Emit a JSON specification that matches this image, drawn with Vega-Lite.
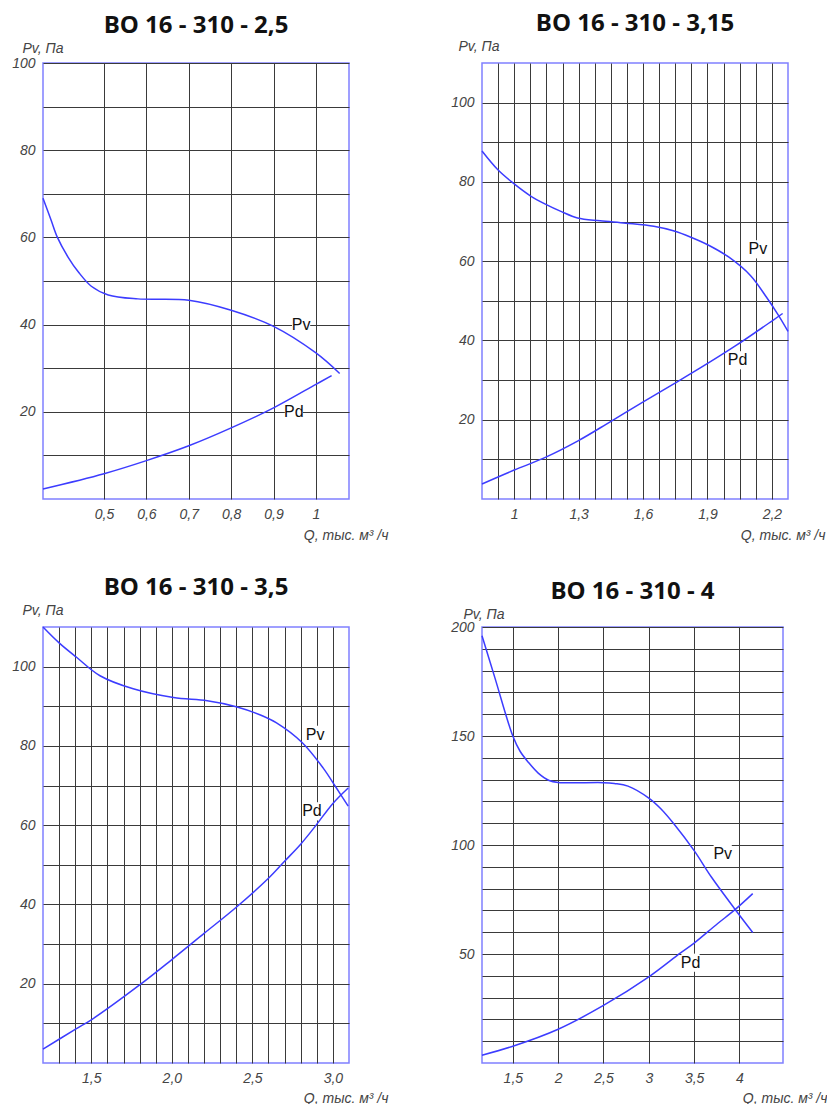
{
  "$schema": "https://vega.github.io/schema/vega-lite/v6.json",
  "background": "white",
  "padding": {"left": 10, "top": 11, "right": 5, "bottom": 5},
  "bounds": "flush",
  "columns": 2,
  "spacing": {"row": 128, "column": 133},
  "datasets": {
    "curves": [
      {"panel": 1, "s": "Pv", "q": 0.356, "p": 69},
      {"panel": 1, "s": "Pv", "q": 0.375, "p": 64},
      {"panel": 1, "s": "Pv", "q": 0.39, "p": 60},
      {"panel": 1, "s": "Pv", "q": 0.415, "p": 55.5},
      {"panel": 1, "s": "Pv", "q": 0.44, "p": 52},
      {"panel": 1, "s": "Pv", "q": 0.47, "p": 48.8},
      {"panel": 1, "s": "Pv", "q": 0.51, "p": 46.8},
      {"panel": 1, "s": "Pv", "q": 0.58, "p": 45.9},
      {"panel": 1, "s": "Pv", "q": 0.7, "p": 45.6},
      {"panel": 1, "s": "Pv", "q": 0.8, "p": 43.3},
      {"panel": 1, "s": "Pv", "q": 0.9, "p": 39.6},
      {"panel": 1, "s": "Pv", "q": 1.0, "p": 33.5},
      {"panel": 1, "s": "Pv", "q": 1.056, "p": 28.8},
      {"panel": 1, "s": "Pd", "q": 0.356, "p": 2.3},
      {"panel": 1, "s": "Pd", "q": 0.5, "p": 5.8},
      {"panel": 1, "s": "Pd", "q": 0.6, "p": 8.8},
      {"panel": 1, "s": "Pd", "q": 0.7, "p": 12.2},
      {"panel": 1, "s": "Pd", "q": 0.8, "p": 16.3},
      {"panel": 1, "s": "Pd", "q": 0.9, "p": 20.9},
      {"panel": 1, "s": "Pd", "q": 1.0, "p": 26.3},
      {"panel": 1, "s": "Pd", "q": 1.037, "p": 28.3},
      {"panel": 2, "s": "Pv", "q": 0.85, "p": 87.8},
      {"panel": 2, "s": "Pv", "q": 0.925, "p": 83},
      {"panel": 2, "s": "Pv", "q": 1.0, "p": 79.5},
      {"panel": 2, "s": "Pv", "q": 1.075, "p": 76.5},
      {"panel": 2, "s": "Pv", "q": 1.145, "p": 74.4},
      {"panel": 2, "s": "Pv", "q": 1.22, "p": 72.5},
      {"panel": 2, "s": "Pv", "q": 1.295, "p": 70.9},
      {"panel": 2, "s": "Pv", "q": 1.4, "p": 70.2},
      {"panel": 2, "s": "Pv", "q": 1.52, "p": 69.6},
      {"panel": 2, "s": "Pv", "q": 1.65, "p": 68.8},
      {"panel": 2, "s": "Pv", "q": 1.745, "p": 67.6},
      {"panel": 2, "s": "Pv", "q": 1.82, "p": 66.1},
      {"panel": 2, "s": "Pv", "q": 1.91, "p": 63.9},
      {"panel": 2, "s": "Pv", "q": 2.0, "p": 61},
      {"panel": 2, "s": "Pv", "q": 2.1, "p": 56.4},
      {"panel": 2, "s": "Pv", "q": 2.175, "p": 50.9},
      {"panel": 2, "s": "Pv", "q": 2.23, "p": 46.4},
      {"panel": 2, "s": "Pv", "q": 2.275, "p": 42.3},
      {"panel": 2, "s": "Pd", "q": 0.85, "p": 3.8},
      {"panel": 2, "s": "Pd", "q": 1.0, "p": 7.3},
      {"panel": 2, "s": "Pd", "q": 1.145, "p": 10.5},
      {"panel": 2, "s": "Pd", "q": 1.295, "p": 14.6},
      {"panel": 2, "s": "Pd", "q": 1.445, "p": 19.4},
      {"panel": 2, "s": "Pd", "q": 1.595, "p": 24.3},
      {"panel": 2, "s": "Pd", "q": 1.745, "p": 29.1},
      {"panel": 2, "s": "Pd", "q": 1.895, "p": 34},
      {"panel": 2, "s": "Pd", "q": 2.035, "p": 38.8},
      {"panel": 2, "s": "Pd", "q": 2.2, "p": 44.9},
      {"panel": 2, "s": "Pd", "q": 2.25, "p": 46.8},
      {"panel": 3, "s": "Pv", "q": 1.2, "p": 110},
      {"panel": 3, "s": "Pv", "q": 1.3, "p": 106},
      {"panel": 3, "s": "Pv", "q": 1.41, "p": 102.3},
      {"panel": 3, "s": "Pv", "q": 1.554, "p": 97.7},
      {"panel": 3, "s": "Pv", "q": 1.76, "p": 94.4},
      {"panel": 3, "s": "Pv", "q": 2.01, "p": 92.2},
      {"panel": 3, "s": "Pv", "q": 2.22, "p": 91.4},
      {"panel": 3, "s": "Pv", "q": 2.4, "p": 89.9},
      {"panel": 3, "s": "Pv", "q": 2.55, "p": 87.8},
      {"panel": 3, "s": "Pv", "q": 2.65, "p": 85.8},
      {"panel": 3, "s": "Pv", "q": 2.81, "p": 80.8},
      {"panel": 3, "s": "Pv", "q": 2.94, "p": 74.4},
      {"panel": 3, "s": "Pv", "q": 3.02, "p": 69.5},
      {"panel": 3, "s": "Pv", "q": 3.095, "p": 64.8},
      {"panel": 3, "s": "Pd", "q": 1.2, "p": 3.5},
      {"panel": 3, "s": "Pd", "q": 1.405, "p": 8.6},
      {"panel": 3, "s": "Pd", "q": 1.5, "p": 10.9},
      {"panel": 3, "s": "Pd", "q": 1.8, "p": 19.7},
      {"panel": 3, "s": "Pd", "q": 2.0, "p": 26.1},
      {"panel": 3, "s": "Pd", "q": 2.2, "p": 32.7},
      {"panel": 3, "s": "Pd", "q": 2.4, "p": 39.3},
      {"panel": 3, "s": "Pd", "q": 2.6, "p": 46.6},
      {"panel": 3, "s": "Pd", "q": 2.7, "p": 50.9},
      {"panel": 3, "s": "Pd", "q": 2.8, "p": 55.2},
      {"panel": 3, "s": "Pd", "q": 2.89, "p": 59.7},
      {"panel": 3, "s": "Pd", "q": 3.0, "p": 65.5},
      {"panel": 3, "s": "Pd", "q": 3.095, "p": 69.4},
      {"panel": 4, "s": "Pv", "q": 1.16, "p": 196},
      {"panel": 4, "s": "Pv", "q": 1.3, "p": 177},
      {"panel": 4, "s": "Pv", "q": 1.5, "p": 150},
      {"panel": 4, "s": "Pv", "q": 1.58, "p": 143},
      {"panel": 4, "s": "Pv", "q": 1.67, "p": 138},
      {"panel": 4, "s": "Pv", "q": 1.78, "p": 133},
      {"panel": 4, "s": "Pv", "q": 1.9, "p": 129.6},
      {"panel": 4, "s": "Pv", "q": 2.0, "p": 128.7},
      {"panel": 4, "s": "Pv", "q": 2.5, "p": 128.6},
      {"panel": 4, "s": "Pv", "q": 2.62, "p": 128.2},
      {"panel": 4, "s": "Pv", "q": 2.77, "p": 127},
      {"panel": 4, "s": "Pv", "q": 3.0, "p": 121.5},
      {"panel": 4, "s": "Pv", "q": 3.135, "p": 116.5},
      {"panel": 4, "s": "Pv", "q": 3.28, "p": 109.5},
      {"panel": 4, "s": "Pv", "q": 3.5, "p": 97.4},
      {"panel": 4, "s": "Pv", "q": 3.69, "p": 85.3},
      {"panel": 4, "s": "Pv", "q": 3.944, "p": 70.9},
      {"panel": 4, "s": "Pv", "q": 4.146, "p": 59.9},
      {"panel": 4, "s": "Pd", "q": 1.16, "p": 3.6},
      {"panel": 4, "s": "Pd", "q": 1.5, "p": 7.7},
      {"panel": 4, "s": "Pd", "q": 2.0, "p": 15.5},
      {"panel": 4, "s": "Pd", "q": 2.5, "p": 26.4},
      {"panel": 4, "s": "Pd", "q": 3.0, "p": 39.5},
      {"panel": 4, "s": "Pd", "q": 3.35, "p": 50.5},
      {"panel": 4, "s": "Pd", "q": 3.5, "p": 55},
      {"panel": 4, "s": "Pd", "q": 3.76, "p": 64},
      {"panel": 4, "s": "Pd", "q": 3.944, "p": 70.1},
      {"panel": 4, "s": "Pd", "q": 4.146, "p": 77.7}
    ],
    "labels": [
      {"panel": 1, "label": "Pv", "q": 0.965, "p": 40},
      {"panel": 1, "label": "Pd", "q": 0.948, "p": 20},
      {"panel": 2, "label": "Pv", "q": 2.135, "p": 63},
      {"panel": 2, "label": "Pd", "q": 2.04, "p": 35},
      {"panel": 3, "label": "Pv", "q": 2.89, "p": 82.8},
      {"panel": 3, "label": "Pd", "q": 2.87, "p": 63.5},
      {"panel": 4, "label": "Pv", "q": 3.815, "p": 95.9},
      {"panel": 4, "label": "Pd", "q": 3.46, "p": 46}
    ]
  },
  "config": {
    "view": {"stroke": "#8080ff", "strokeWidth": 1.5},
    "title": {"font": "Open Sans", "fontSize": 24, "fontWeight": "bold", "color": "#111111", "anchor": "middle", "offset": 3},
    "axis": {
      "grid": true, "gridColor": "#3a3a3a", "gridWidth": 1, "gridOpacity": 1,
      "domain": false, "ticks": false,
      "labelFont": "Liberation Sans Narrow, Liberation Sans", "labelFontStyle": "italic", "labelFontSize": 14, "labelColor": "#444444",
      "labelPadding": 8, "labelOverlap": false, "labelFlush": false,
      "titleFont": "Liberation Sans Narrow, Liberation Sans", "titleFontStyle": "italic", "titleFontWeight": "normal", "titleFontSize": 14, "titleColor": "#444444"
    },
    "axisX": {"titleAnchor": "end", "titleAlign": "right", "titleBaseline": "alphabetic", "titleY": 40},
    "axisY": {"titleAngle": 0, "titleAlign": "left", "titleBaseline": "alphabetic", "titleY": -11}
  },
  "concat": [
    {
      "width": 306, "height": 436,
      "title": "ВО 16 - 310 - 2,5",
      "encoding": {
        "x": {"field": "q", "type": "quantitative", "scale": {"domain": [0.356, 1.078], "nice": false, "zero": false},
              "axis": {"title": "Q, тыс. м³ /ч", "titleX": 345, "values": [0.5, 0.6, 0.7, 0.8, 0.9, 1], "labelExpr": "replace(format(datum.value, '~g'), '.', ',')"}},
        "y": {"field": "p", "type": "quantitative", "scale": {"domain": [0, 100], "nice": false},
              "axis": {"title": "Pv, Па", "titleX": -21, "values": [10, 20, 30, 40, 50, 60, 70, 80, 90, 100], "labelExpr": "datum.value % 20 == 0 ? datum.value : ''"}}
      },
      "layer": [
        {"data": {"name": "labels"}, "transform": [{"filter": "datum.panel == 1"}], "mark": {"type": "point", "shape": "square", "filled": true, "color": "white", "opacity": 1, "size": 330}},
        {"data": {"name": "curves"}, "transform": [{"filter": "datum.panel == 1"}], "mark": {"type": "line", "interpolate": "catmull-rom", "color": "#3c3cff", "strokeWidth": 1.5}, "encoding": {"detail": {"field": "s"}}},
        {"data": {"name": "labels"}, "transform": [{"filter": "datum.panel == 1"}], "mark": {"type": "text", "font": "Liberation Sans", "fontSize": 16, "color": "#111111"}, "encoding": {"text": {"field": "label"}}}
      ]
    },
    {
      "width": 306, "height": 436,
      "title": "ВО 16 - 310 - 3,15",
      "encoding": {
        "x": {"field": "q", "type": "quantitative", "scale": {"domain": [0.85, 2.275], "nice": false, "zero": false},
              "axis": {"title": "Q, тыс. м³ /ч", "titleX": 343, "values": [0.925, 1, 1.075, 1.15, 1.225, 1.3, 1.375, 1.45, 1.525, 1.6, 1.675, 1.75, 1.825, 1.9, 1.975, 2.05, 2.125, 2.2], "labelExpr": "indexof([1, 1.3, 1.6, 1.9, 2.2], datum.value) >= 0 ? replace(format(datum.value, '~g'), '.', ',') : ''"}},
        "y": {"field": "p", "type": "quantitative", "scale": {"domain": [0, 110], "nice": false},
              "axis": {"title": "Pv, Па", "titleX": -24, "titleY": -13, "values": [10, 20, 30, 40, 50, 60, 70, 80, 90, 100], "labelExpr": "datum.value % 20 == 0 ? datum.value : ''"}}
      },
      "layer": [
        {"data": {"name": "labels"}, "transform": [{"filter": "datum.panel == 2"}], "mark": {"type": "point", "shape": "square", "filled": true, "color": "white", "opacity": 1, "size": 330}},
        {"data": {"name": "curves"}, "transform": [{"filter": "datum.panel == 2"}], "mark": {"type": "line", "interpolate": "catmull-rom", "color": "#3c3cff", "strokeWidth": 1.5}, "encoding": {"detail": {"field": "s"}}},
        {"data": {"name": "labels"}, "transform": [{"filter": "datum.panel == 2"}], "mark": {"type": "text", "font": "Liberation Sans", "fontSize": 16, "color": "#111111"}, "encoding": {"text": {"field": "label"}}}
      ]
    },
    {
      "width": 306, "height": 436,
      "title": "ВО 16 - 310 - 3,5",
      "encoding": {
        "x": {"field": "q", "type": "quantitative", "scale": {"domain": [1.2, 3.1], "nice": false, "zero": false},
              "axis": {"title": "Q, тыс. м³ /ч", "titleX": 345, "titleY": 39, "values": [1.3, 1.4, 1.5, 1.6, 1.7, 1.8, 1.9, 2, 2.1, 2.2, 2.3, 2.4, 2.5, 2.6, 2.7, 2.8, 2.9, 3], "labelExpr": "indexof([1.5, 2, 2.5, 3], datum.value) >= 0 ? replace(format(datum.value, '.1f'), '.', ',') : ''"}},
        "y": {"field": "p", "type": "quantitative", "scale": {"domain": [0, 110], "nice": false},
              "axis": {"title": "Pv, Па", "titleX": -21, "titleY": -13, "values": [10, 20, 30, 40, 50, 60, 70, 80, 90, 100], "labelExpr": "datum.value % 20 == 0 ? datum.value : ''"}}
      },
      "layer": [
        {"data": {"name": "labels"}, "transform": [{"filter": "datum.panel == 3"}], "mark": {"type": "point", "shape": "square", "filled": true, "color": "white", "opacity": 1, "size": 330}},
        {"data": {"name": "curves"}, "transform": [{"filter": "datum.panel == 3"}], "mark": {"type": "line", "interpolate": "catmull-rom", "color": "#3c3cff", "strokeWidth": 1.5}, "encoding": {"detail": {"field": "s"}}},
        {"data": {"name": "labels"}, "transform": [{"filter": "datum.panel == 3"}], "mark": {"type": "text", "font": "Liberation Sans", "fontSize": 16, "color": "#111111"}, "encoding": {"text": {"field": "label"}}}
      ]
    },
    {
      "width": 301, "height": 436,
      "title": "ВО 16 - 310 - 4",
      "encoding": {
        "x": {"field": "q", "type": "quantitative", "scale": {"domain": [1.16, 4.48], "nice": false, "zero": false},
              "axis": {"title": "Q, тыс. м³ /ч", "titleX": 345, "titleY": 39, "values": [1.5, 2, 2.5, 3, 3.5, 4], "labelExpr": "replace(format(datum.value, '~g'), '.', ',')"}},
        "y": {"field": "p", "type": "quantitative", "scale": {"domain": [0, 200], "nice": false},
              "axis": {"title": "Pv, Па", "titleX": -19, "titleY": -9, "values": [10, 20, 30, 40, 50, 60, 70, 80, 90, 100, 110, 120, 130, 140, 150, 160, 170, 180, 190, 200], "labelExpr": "datum.value % 50 == 0 ? datum.value : ''"}}
      },
      "layer": [
        {"data": {"name": "labels"}, "transform": [{"filter": "datum.panel == 4"}], "mark": {"type": "point", "shape": "square", "filled": true, "color": "white", "opacity": 1, "size": 330}},
        {"data": {"name": "curves"}, "transform": [{"filter": "datum.panel == 4"}], "mark": {"type": "line", "interpolate": "catmull-rom", "color": "#3c3cff", "strokeWidth": 1.5}, "encoding": {"detail": {"field": "s"}}},
        {"data": {"name": "labels"}, "transform": [{"filter": "datum.panel == 4"}], "mark": {"type": "text", "font": "Liberation Sans", "fontSize": 16, "color": "#111111"}, "encoding": {"text": {"field": "label"}}}
      ]
    }
  ]
}
